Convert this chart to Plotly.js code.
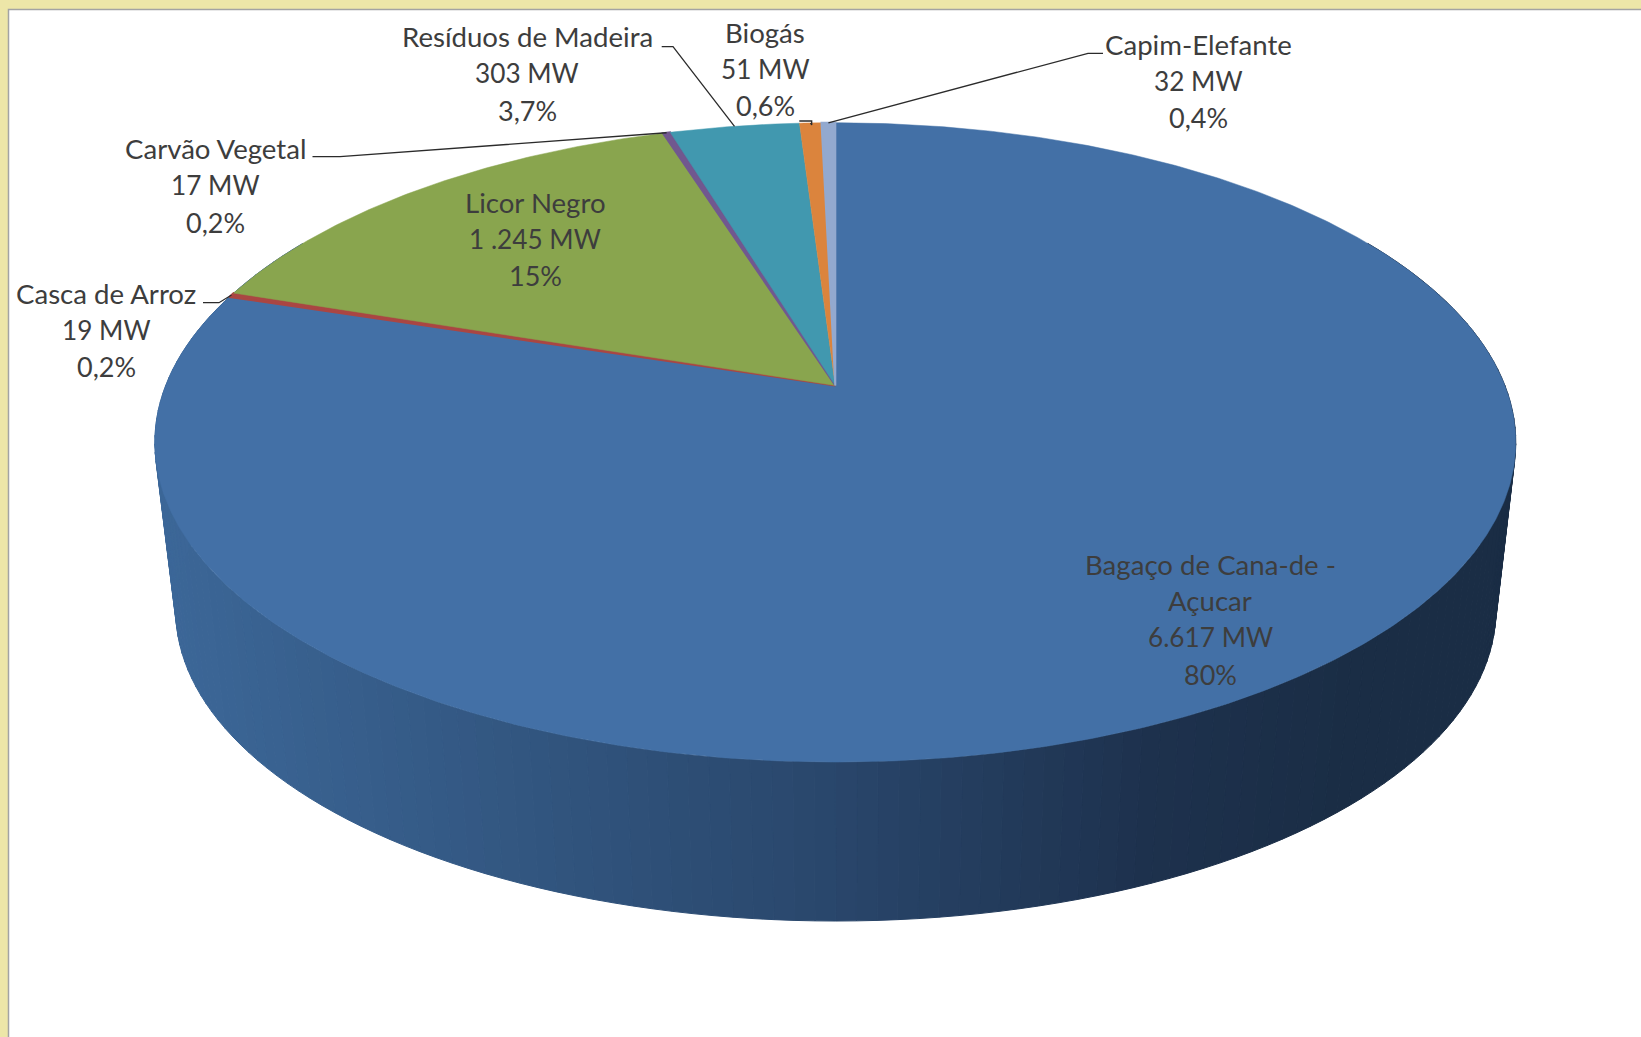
<!DOCTYPE html>
<html lang="pt">
<head>
<meta charset="utf-8">
<script src="https://cdn.plot.ly/plotly-3.0.1.min.js"></script>
<style>html,body{margin:0;padding:0;background:#fff}#chart{width:1641px;height:1037px}</style>
</head>
<body>
<div id="chart"></div>
<script>
// ---- chart data, clockwise from the top of the pie ----
const categories = ["Bagaço de Cana-de -\nAçucar","Casca de Arroz","Licor Negro","Carvão Vegetal","Resíduos de Madeira","Biogás","Capim-Elefante"];
const valuesMW   = [6617,19,1245,17,303,51,32];
const mwLabels   = ["6.617 MW","19 MW","1 .245 MW","17 MW","303 MW","51 MW","32 MW"];
const pctLabels  = ["80%","0,2%","15%","0,2%","3,7%","0,6%","0,4%"];
const sliceColors = ["#4370A6","#AA4643","#89A54E","#71588F","#4198AF","#DB843D","#93A9CF"];

// ---- page layout (pixels) ----
const labelX  = [1210,106,535,215.6,527,765,1198];
const labelY  = [564,293,202,148.6,36.6,32.4,44];
const lineGap = 36.7;
// leader elbows: [text end, elbow]; null when the label sits on its slice
const leaderElbows = [null,[[203,302.7],[219,302.7]],null,[[312.5,156.7],[340,156.7]],[[661.7,46.7],[673,46.7]],[[799.3,121],[811.7,121],[811.7,125]],[[1103,53.3],[1088,53.3]]];

// ---- 3D look: a circle seen in perspective ----
const persp = 0.178;
const topRing    = {cx:835.3, cy:385.5, c:669.6, b:309.5};
const bottomRing = {cx:835.8, cy:555.2, c:649.5, b:300.7};
const sideStops = [[160,[60,103,152]],[420,[53,91,135]],[835,[41,70,107]],[1150,[29,49,77]],[1350,[26,45,69]],[1520,[26,45,69]]];

function project(deg, ring){
  const t = deg*Math.PI/180, x = Math.sin(t), y = Math.cos(t), w = 1+persp*y;
  return [ring.cx + ring.c*x/w, ring.cy - ring.b*y/w];
}
function sideColor(px){
  for(let i=1;i<sideStops.length;i++){
    if(px<=sideStops[i][0]){
      const a=sideStops[i-1], b=sideStops[i], f=Math.max(0,(px-a[0])/(b[0]-a[0]));
      const c=a[1].map((v,j)=>Math.round(v+(b[1][j]-v)*f));
      return `rgb(${c[0]},${c[1]},${c[2]})`;
    }
  }
  return "rgb(26,45,69)";
}

const traces = [];
const skip = {hoverinfo:"skip", showlegend:false};

// side wall
for(let a=60;a<300;a+=1.5){
  const p=project(a,topRing), q=project(a+1.5,topRing), r=project(a+1.5,bottomRing), s=project(a,bottomRing);
  const col=sideColor((p[0]+q[0]+r[0]+s[0])/4);
  traces.push({type:"scatter",mode:"lines",x:[p[0],q[0],r[0],s[0],p[0]],y:[p[1],q[1],r[1],s[1],p[1]],
    fill:"toself",fillcolor:col,line:{color:col,width:1},...skip});
}

// top face slices
const total = valuesMW.reduce((s,v)=>s+v,0);
let cum = 0;
const midAngles = [];
valuesMW.forEach((v,i)=>{
  const a0=cum/total*360, a1=(cum+v)/total*360;
  midAngles.push((a0+a1)/2);
  const xs=[topRing.cx], ys=[topRing.cy];
  const steps=Math.max(2,Math.ceil((a1-a0)/0.5));
  for(let k=0;k<=steps;k++){
    const p=project(a0+(a1-a0)*k/steps,topRing);
    xs.push(p[0]); ys.push(p[1]);
  }
  xs.push(topRing.cx); ys.push(topRing.cy);
  const thin = v/total < 0.005;
  traces.push({type:"scatter",mode:"lines",x:xs,y:ys,fill:"toself",fillcolor:sliceColors[i],
    line:{color:sliceColors[i],width:thin?2:0.5},name:categories[i].replace("\n"," "),
    hovertemplate:categories[i].replace("\n"," ")+": "+mwLabels[i]+"<extra></extra>",showlegend:false});
  cum+=v;
});

// leader lines
leaderElbows.forEach((pts,i)=>{
  if(!pts) return;
  const end=project(midAngles[i],topRing);
  traces.push({type:"scatter",mode:"lines",x:pts.map(p=>p[0]).concat(end[0]),y:pts.map(p=>p[1]).concat(end[1]),
    line:{color:"#2b2b2b",width:1.3},...skip});
});

// labels
const annotations=[];
const fontFamily="Lato, Carlito, sans-serif";
categories.forEach((c,i)=>{
  const name=c.split("\n");
  const lines=name.map(t=>[t,27.6]).concat([[mwLabels[i],26.2],[pctLabels[i],27]]);
  lines.forEach((l,j)=>annotations.push({x:labelX[i],y:labelY[i]+j*lineGap,xref:"x",yref:"y",text:l[0],showarrow:false,
    xanchor:"center",yanchor:"middle",font:{family:fontFamily,size:l[1],color:"#3d3d3d"}}));
});

const hiddenAxis={visible:false,fixedrange:true,showgrid:false,zeroline:false};
Plotly.newPlot("chart",traces,{
  width:1641,height:1037,margin:{l:0,r:0,t:0,b:0},
  paper_bgcolor:"#EDE6A8",plot_bgcolor:"rgba(0,0,0,0)",
  xaxis:{...hiddenAxis,range:[0,1641]},
  yaxis:{...hiddenAxis,range:[1037,0]},
  shapes:[{type:"rect",layer:"below",xref:"x",yref:"y",x0:8.5,y0:9.5,x1:1660,y1:1060,fillcolor:"#ffffff",line:{color:"#a3a3a3",width:1.5}}],
  annotations:annotations,
  showlegend:false
},{displayModeBar:false,staticPlot:false});
</script>
</body>
</html>
